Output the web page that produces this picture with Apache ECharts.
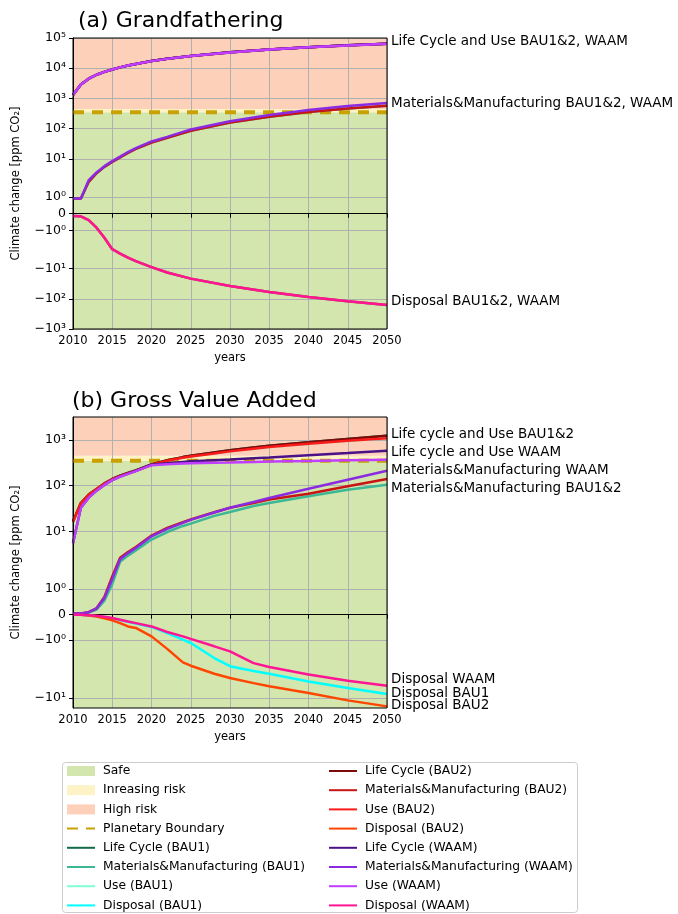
<!DOCTYPE html>
<html><head><meta charset="utf-8">
<script src="https://cdn.jsdelivr.net/npm/echarts@6/dist/echarts.min.js"></script>
<style>html,body{margin:0;padding:0;background:#fff}#c{width:678px;height:914px}</style>
</head><body><div id="c"></div>
<script>
// ---- symmetric log transform (matplotlib-like symlog) ----
const LINTHRESH = 2, LINSCALE = 1;
const LS_ADJ = LINSCALE / (1 - 1 / 10);
function symlog(v) {
  const a = Math.abs(v), s = v < 0 ? -1 : 1;
  if (a <= LINTHRESH) return v / LINTHRESH * LS_ADJ;
  return s * (LS_ADJ + Math.log10(a / LINTHRESH));
}

// ---- thresholds ----
const PLANETARY_BOUNDARY = 350;
const HIGH_RISK_START = 450;

// ---- panel (a) Grandfathering ----
const yearsA = [2010, 2011, 2012, 2013, 2014, 2015, 2016, 2017, 2018, 2020, 2022, 2025, 2030, 2035, 2040, 2045, 2050];
const lifeCycleA = [1300, 2900, 4500, 6100, 7600, 9100, 10700, 12300, 13900, 17300, 20500, 25400, 33500, 41500, 49300, 57100, 65000];
const useA       = [1300, 2900, 4500, 6100, 7600, 9100, 10700, 12300, 13900, 17200, 20400, 25300, 33300, 41300, 49100, 56800, 64500];
const mmBauA     = [0.9, 0.9, 1.9, 3.4, 5.5, 8.0, 11.3, 16, 21.5, 35, 50, 86, 160, 250, 360, 470, 580];
const mmWaamA    = [0.9, 0.9, 2.0, 3.6, 5.8, 8.5, 12, 17, 23, 38, 54, 95, 178, 285, 415, 560, 710];
const disposalA  = [-0.14, -0.15, -0.38, -0.83, -1.43, -2.3, -3.2, -4.4, -5.7, -9, -13.5, -21.6, -38, -60, -87, -121, -161];
const yTicksA = [-1000, -100, -10, -1, 0, 1, 10, 100, 1000, 10000, 100000];
const yTickLabelsA = ['−10³', '−10²', '−10¹', '−10⁰', '0', '10⁰', '10¹', '10²', '10³', '10⁴', '10⁵'];
const yRangeA = [-1000, 100000];

// ---- panel (b) Gross Value Added ----
const yearsB = [2010, 2011, 2012, 2013, 2014, 2015, 2016, 2017, 2018, 2020, 2022, 2024, 2025, 2028, 2030, 2033, 2035, 2040, 2045, 2050];
const lifeCycleBauB = [16.7, 42, 64, 85, 112, 140, 165, 189, 215, 290, 358, 420, 450, 530, 590, 680, 745, 880, 1045, 1230];
const useBauB       = [16.5, 41.5, 63.5, 84.5, 111, 138.5, 162, 185, 210, 283, 350, 405, 435, 505, 560, 640, 700, 820, 950, 1080];
const lifeCycleWaamB = [5.6, 33, 55, 78, 104, 132, 158, 183, 210, 287, 310, 330, 340, 360, 372, 395, 410, 460, 515, 580];
const useWaamB       = [5.6, 33, 55, 78, 104, 132, 157, 181, 207, 280, 295, 305, 310, 318, 322, 330, 335, 345, 357, 369];
const mmBau1B  = [0.05, 0.05, 0.08, 0.2, 0.55, 1.2, 2.2, 3.0, 3.9, 6.7, 9.8, 13.3, 14.9, 22, 26.7, 36, 42, 59, 82, 105];
const mmBau2B  = [0.05, 0.05, 0.1, 0.25, 0.7, 1.5, 2.7, 3.6, 4.6, 8.2, 12, 16, 18.5, 26.5, 33, 42, 50, 67, 97, 140];
const mmWaamB  = [0.05, 0.05, 0.1, 0.25, 0.65, 1.4, 2.5, 3.4, 4.4, 7.9, 11.5, 15.5, 18, 26, 33, 44, 54, 86, 135, 212];
const dispBau1B = [0, 0, -0.02, -0.06, -0.09, -0.14, -0.21, -0.28, -0.35, -0.48, -0.72, -0.98, -1.11, -1.7, -2.05, -2.6, -3.0, -4.4, -6.1, -8.3];
const dispBau2B = [0, 0, -0.03, -0.07, -0.14, -0.22, -0.33, -0.46, -0.52, -0.85, -1.34, -1.87, -2.0, -3.0, -3.7, -4.8, -5.6, -7.9, -11.4, -15.4];
const dispWaamB = [0, 0, -0.02, -0.04, -0.08, -0.13, -0.2, -0.27, -0.33, -0.46, -0.68, -0.85, -0.95, -1.24, -1.44, -1.9, -2.14, -3.1, -4.25, -5.5];
const yTicksB = [-10, -1, 0, 1, 10, 100, 1000];
const yTickLabelsB = ['−10¹', '−10⁰', '0', '10⁰', '10¹', '10²', '10³'];
const yRangeB = [-16.7, 3140];

// ---- names / colours ----
const bandNames = ['Safe', 'Inreasing risk', 'High risk'];
const bandColors = ['#d2e6ad', '#fdf3c6', '#fdd0ba'];
const pbName = 'Planetary Boundary';
const pbColor = '#c9a100';
const seriesNames = [
  'Life Cycle (BAU1)', 'Materials&Manufacturing (BAU1)', 'Use (BAU1)', 'Disposal (BAU1)',
  'Life Cycle (BAU2)', 'Materials&Manufacturing (BAU2)', 'Use (BAU2)', 'Disposal (BAU2)',
  'Life Cycle (WAAM)', 'Materials&Manufacturing (WAAM)', 'Use (WAAM)', 'Disposal (WAAM)'
];
const seriesColors = [
  '#156b48', '#3cb894', '#7fffd4', '#00ffff',
  '#7d0b0b', '#c81414', '#ff1a1a', '#ff4500',
  '#4b1287', '#8a2be2', '#bf3eff', '#ff1493'
];
const panelA = [lifeCycleA, mmBauA, useA, disposalA, lifeCycleA, mmBauA, useA, disposalA, lifeCycleA, mmWaamA, useA, disposalA];
const panelB = [lifeCycleBauB, mmBau1B, useBauB, dispBau1B, lifeCycleBauB, mmBau2B, useBauB, dispBau2B, lifeCycleWaamB, mmWaamB, useWaamB, dispWaamB];

const rightLabelsA = ['Life Cycle and Use BAU1&2, WAAM', 'Materials&Manufacturing BAU1&2, WAAM', 'Disposal BAU1&2, WAAM'];
const rightLabelsB = ['Life cycle and Use BAU1&2', 'Life cycle and Use WAAM', 'Materials&Manufacturing WAAM', 'Materials&Manufacturing BAU1&2', 'Disposal WAAM', 'Disposal BAU1', 'Disposal BAU2'];

// ---- layout ----
const FONT = 'DejaVu Sans';
const grids = [
  { left: 73, top: 38, width: 314, height: 291 },
  { left: 73, top: 417, width: 314, height: 291 }
];
const rightLabelYA = [41, 103, 301];
const rightLabelYB = [434, 452.5, 470, 488, 679, 693, 705];

function labelFor(ticks, labels) {
  return function (val) {
    for (let i = 0; i < ticks.length; i++) if (Math.abs(symlog(ticks[i]) - val) < 1e-6) return labels[i];
    return '';
  };
}

function xAxisCfg(gi) {
  return {
    type: 'value', gridIndex: gi, min: 2010, max: 2050, interval: 5, z: 2,
    name: 'years', nameLocation: 'middle', nameGap: 23,
    nameTextStyle: { fontFamily: FONT, fontSize: 11.5, color: '#000' },
    axisLine: { lineStyle: { color: '#000', width: 1 } },
    axisTick: { length: 4, lineStyle: { color: '#000' } },
    axisLabel: { fontFamily: FONT, fontSize: 11.5, color: '#000', margin: 6, formatter: v => String(v) },
    splitLine: { show: true, lineStyle: { color: '#b0b0b0', width: 1, opacity: 1 } }
  };
}
function yAxisCfg(gi, ticks, labels, range) {
  const tv = ticks.map(symlog);
  return {
    type: 'value', gridIndex: gi, min: symlog(range[0]), max: symlog(range[1]), z: 2,
    name: 'Climate change [ppm CO₂]', nameLocation: 'middle', nameGap: 51,
    nameTextStyle: { fontFamily: FONT, fontSize: 11.5, color: '#000' },
    axisLine: { show: true, lineStyle: { color: '#000', width: 1 } },
    axisTick: { show: true, length: 4, customValues: tv, lineStyle: { color: '#000' } },
    axisLabel: { fontFamily: FONT, fontSize: 12.5, color: '#000', margin: 7, customValues: tv, formatter: labelFor(ticks, labels) },
    splitLine: { show: true, lineStyle: { color: '#b0b0b0', width: 1, opacity: 1 } }
  };
}

const series = [];
[[yearsA, panelA, yRangeA], [yearsB, panelB, yRangeB]].forEach(([years, vals, range], gi) => {
  const bandEdges = [range[0], PLANETARY_BOUNDARY, HIGH_RISK_START, range[1]];
  bandNames.forEach((n, k) => {
    series.push({
      name: n, type: 'line', xAxisIndex: gi, yAxisIndex: gi, z: 1, data: [], symbol: 'none',
      itemStyle: { color: bandColors[k] }, lineStyle: { color: bandColors[k] },
      markArea: { silent: true, itemStyle: { color: bandColors[k], opacity: 1 },
        data: [[{ yAxis: symlog(bandEdges[k]) }, { yAxis: symlog(bandEdges[k + 1]) }]] }
    });
  });
  series.push({
    name: pbName, type: 'line', xAxisIndex: gi, yAxisIndex: gi, z: 3, symbol: 'none', silent: true,
    data: [[years[0], symlog(PLANETARY_BOUNDARY)], [years[years.length - 1], symlog(PLANETARY_BOUNDARY)]],
    itemStyle: { color: pbColor }, lineStyle: { color: pbColor, width: 4, type: [11, 8] }
  });
  seriesNames.forEach((n, k) => {
    series.push({
      name: n, type: 'line', xAxisIndex: gi, yAxisIndex: gi, z: 3, symbol: 'none', silent: true,
      data: years.map((y, i) => [y, symlog(vals[k][i])]),
      itemStyle: { color: seriesColors[k] }, lineStyle: { color: seriesColors[k], width: 2.5 }
    });
  });
});

const graphics = [
  { type: 'rect', left: 62, top: 762, shape: { width: 515, height: 150, r: 3 }, style: { fill: '#fff', stroke: '#cccccc', lineWidth: 1 }, z: 0 }
];
const RIGHT_FONT = '13.5px "DejaVu Sans"';
rightLabelsA.forEach((t, i) => graphics.push({ type: 'text', x: 391, y: rightLabelYA[i], style: { text: t, font: RIGHT_FONT, fill: '#000', verticalAlign: 'middle' }, z: 5 }));
rightLabelsB.forEach((t, i) => graphics.push({ type: 'text', x: 391, y: rightLabelYB[i], style: { text: t, font: RIGHT_FONT, fill: '#000', verticalAlign: 'middle' }, z: 5 }));

const legendCommon = {
  orient: 'vertical', top: 764, itemWidth: 28, itemHeight: 10, itemGap: 5.2, padding: 0,
  itemStyle: { opacity: 0 },
  textStyle: { fontFamily: FONT, fontSize: 12.3, color: '#000', lineHeight: 14, padding: [0, 0, 0, 3] },
  selectedMode: false, z: 6
};

const option = {
  animation: false,
  backgroundColor: '#fff',
  title: [
    { text: '(a) Grandfathering', left: 78, top: 8, padding: 0, textStyle: { fontFamily: FONT, fontSize: 22, fontWeight: 'normal', color: '#000', lineHeight: 26 } },
    { text: '(b) Gross Value Added', left: 72, top: 388, padding: 0, textStyle: { fontFamily: FONT, fontSize: 22, fontWeight: 'normal', color: '#000', lineHeight: 26 } }
  ],
  grid: grids.map(g => Object.assign({ show: true, borderColor: '#000', borderWidth: 1, backgroundColor: 'transparent', z: 10 }, g)),
  xAxis: [xAxisCfg(0), xAxisCfg(1)],
  yAxis: [yAxisCfg(0, yTicksA, yTickLabelsA, yRangeA), yAxisCfg(1, yTicksB, yTickLabelsB, yRangeB)],
  legend: [
    Object.assign({}, legendCommon, { left: 66,
      data: bandNames.map(n => ({ name: n, icon: 'rect', itemStyle: { opacity: 1 } })).concat([pbName], seriesNames.slice(0, 4)) }),
    Object.assign({}, legendCommon, { left: 328, data: seriesNames.slice(4) })
  ],
  graphic: graphics,
  series: series
};

const chart = echarts.init(document.getElementById('c'));
chart.setOption(option);
</script>
</body></html>
